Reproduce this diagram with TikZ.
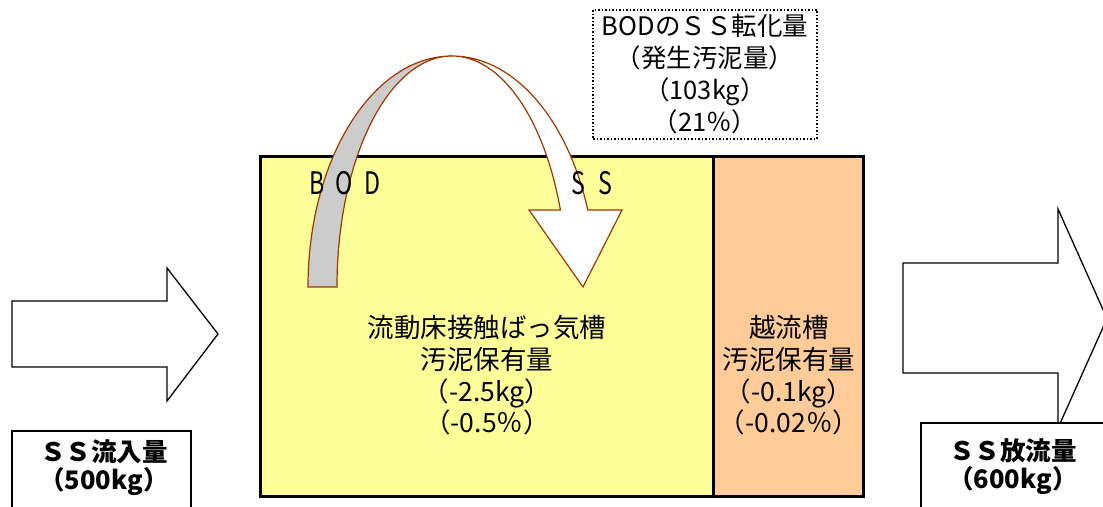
\documentclass[tikz,border=0pt]{standalone}
\usepackage{fontspec}
\setmainfont{Noto Sans CJK JP}
\definecolor{tankyellow}{HTML}{FFFF99}
\definecolor{tankorange}{HTML}{FFCC99}
\definecolor{arcbrown}{RGB}{160,55,0}
\definecolor{arcgray}{HTML}{CCCCCC}
\tikzset{
  lbl/.style={font=\fontsize{25.5}{32}\selectfont, align=center, inner sep=0pt},
  tanklbl/.style={font=\fontsize{26.5}{31.7}\selectfont, align=center, inner sep=0pt},
  spacedlbl/.style={font=\fontsize{31}{31}\selectfont, inner sep=0pt},
  boldlbl/.style={font=\bfseries\fontsize{25.5}{28}\selectfont, align=center, inner sep=0pt},
  tankbox/.style={draw=black, line width=3pt, inner sep=0pt},
  blockarrow/.style={draw=black, line width=1.3pt, fill=white, line join=miter},
  labelbox/.style={draw=black, line width=1.3pt, fill=white},
  curvearrow/.style={draw=arcbrown, line width=1.2pt, line join=miter},
}
\begin{document}
\begin{tikzpicture}[x=1pt,y=1pt]
\useasboundingbox (0,0) rectangle (1103,506);
% tanks
\node[tankbox, fill=tankyellow, minimum width=452.5pt, minimum height=340pt] (tank) at (486.75,179) {};
\node[tankbox, fill=tankorange, minimum width=150pt, minimum height=340pt] (overflow) at (788,179) {};
% curved arrow: gray back part
\path[curvearrow, fill=arcgray] (308,219) arc[start angle=180, end angle=90, x radius=144pt, y radius=231pt]
  coordinate (apex)
  arc[start angle=90, end angle=180, x radius=115pt, y radius=231pt] -- cycle;
% curved arrow: white front part with head
\path[curvearrow, fill=white] (apex) arc[start angle=90, end angle=19.47, x radius=144pt, y radius=231pt]
  -- (622,296) -- (583,219) -- (529,296) -- (560.4,296)
  arc[start angle=19.47, end angle=90, x radius=115pt, y radius=231pt] -- cycle;
\node[spacedlbl] (bod) at (345,323) {\scalebox{0.75}[1]{B\hspace{15pt}O\hspace{15pt}D}};
\node[spacedlbl] (ss) at (592,323) {\scalebox{0.75}[1]{S\hspace{18pt}S}};
% dotted box
\node[draw=black, line width=1.5pt, dotted, fill=white, minimum width=224pt, minimum height=129pt, inner sep=0pt] (conv) at (705,431.5) {};
\node[lbl] (convtxt) at (conv.center) {BODのＳＳ転化量\\（発生汚泥量）\\（103kg）\\（21％）};
% tank texts
\node[tanklbl] (tanktxt) at (487,130.5) {流動床接触ばっ気槽\\汚泥保有量\\（-2.5kg）\\（-0.5％）};
\node[tanklbl] (overtxt) at (789,130.5) {越流槽\\汚泥保有量\\（-0.1kg）\\（-0.02％）};
% inflow arrow
\draw[blockarrow] (12,205) -- (167,205) -- (167,238) -- (218,172) -- (167,105) -- (167,139) -- (12,139) -- cycle;
% outflow arrow
\draw[blockarrow] (903,243) -- (1058,243) -- (1058,297) -- (1107,187.5) -- (1058,78) -- (1058,133) -- (903,133) -- cycle;
% label boxes
\draw[labelbox] (12,-5) rectangle (191,75);
\node[boldlbl] (intxt) at (104,38.5) {ＳＳ流入量\\（500kg）};
\draw[labelbox] (921,-5) rectangle (1110,83);
\node[boldlbl] (outtxt) at (1013,39.5) {ＳＳ放流量\\（600kg）};
\end{tikzpicture}
\end{document}
